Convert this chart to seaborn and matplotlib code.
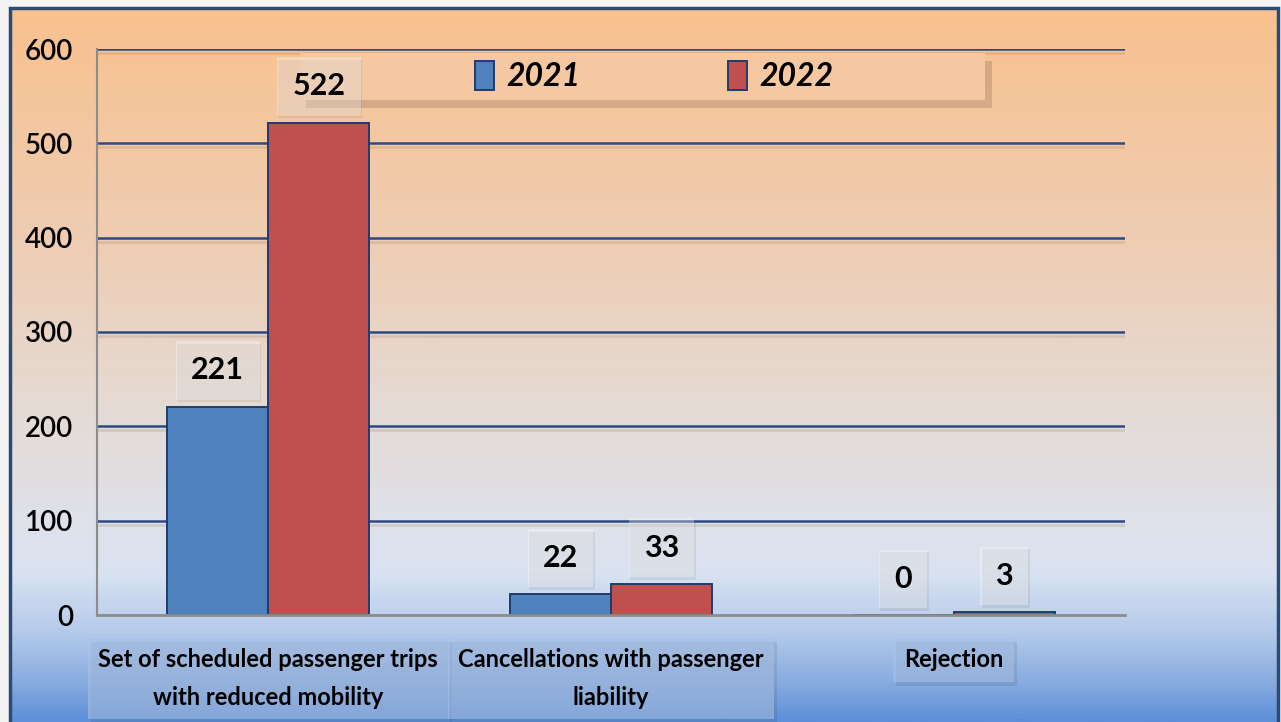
import numpy as np
import pandas as pd
import seaborn as sns
import matplotlib.pyplot as plt
import matplotlib.patheffects as pe
from matplotlib.colors import LinearSegmentedColormap, to_rgb
from matplotlib.patches import Rectangle, FancyBboxPatch

# data
categories = ['Set of scheduled passenger trips\nwith reduced mobility',
              'Cancellations with passenger\nliability',
              'Rejection']
years = ['2021', '2022']
values_2021 = [221, 22, 0]
values_2022 = [522, 33, 3]
yticks = [0, 100, 200, 300, 400, 500, 600]

df = pd.DataFrame({
    'category': categories * 2,
    'year': [years[0]] * 3 + [years[1]] * 3,
    'value': values_2021 + values_2022,
})

sns.set_style('white')
plt.rcParams['font.family'] = ['Lato', 'DejaVu Sans']
plt.rcParams['text.color'] = 'black'
plt.rcParams['xtick.labelcolor'] = 'black'
plt.rcParams['ytick.labelcolor'] = 'black'

W, H = 1281, 722
fig = plt.figure(figsize=(W / 100, H / 100), dpi=100)
fig.patch.set_facecolor('#f4f4f4')

# gradient background inside the frame
fx0, fy0, fx1, fy1 = 10, 8, 1278, 722
bg = fig.add_axes([fx0 / W, 1 - fy1 / H, (fx1 - fx0) / W, (fy1 - fy0) / H], zorder=-5)
stops = [(0.0, '#f9c18e'), (0.35, '#eeceb6'), (0.55, '#e5dad3'), (0.72, '#dfe1ea'),
         (0.79, '#dae3f1'), (0.88, '#b3c9ea'), (0.95, '#86aadf'), (1.0, '#5d90d8')]
cmap = LinearSegmentedColormap.from_list('bg', [(p, to_rgb(c)) for p, c in stops])
grad = np.linspace(0, 1, 400).reshape(-1, 1)
bg.imshow(grad, aspect='auto', cmap=cmap, extent=[0, 1, 0, 1], origin='upper')
bg.set_axis_off()
fig.patches.append(Rectangle((fx0 / W, -0.01), (fx1 - fx0) / W, 1 - fy0 / H + 0.01,
                             transform=fig.transFigure, fill=False,
                             edgecolor='#2d4a74', linewidth=2.5, zorder=10))

ax = fig.add_axes([97 / W, 1 - 615 / H, (1125 - 97) / W, (615 - 49) / H])
ax.set_facecolor('none')

sns.barplot(data=df, x='category', y='value', hue='year', order=categories,
            hue_order=years, palette={'2021': '#4f81bd', '2022': '#c0504d'},
            edgecolor='#1f3c6e', linewidth=1.4, width=0.59, saturation=1,
            ax=ax, zorder=3)

leg = ax.get_legend()
handles = leg.legend_handles
leg.remove()

ax.set_ylim(0, 600)
ax.set_xlim(-0.5, 2.5)
ax.set_yticks(yticks)
ax.set_xlabel('')
ax.set_ylabel('')

# gridlines
for y in yticks[1:]:
    ax.axhline(y, color='#2b4a80', linewidth=1.8, zorder=1,
               path_effects=[pe.SimpleLineShadow(offset=(0, -3), shadow_color='#8a6a55', alpha=0.2),
                             pe.Normal()])

for s in ['top', 'right']:
    ax.spines[s].set_visible(False)
ax.spines['left'].set_color('#8c8c8c')
ax.spines['bottom'].set_color('#8c8c8c')
ax.spines['left'].set_linewidth(1.5)
ax.spines['bottom'].set_linewidth(2)
ax.spines['bottom'].set_zorder(4)

ax.tick_params(axis='y', length=7, width=1.5, color='#8c8c8c', labelsize=20, pad=10)
for t in ax.get_yticklabels():
    t.set_fontweight('semibold')
ax.set_xticks([-0.5, 0.5, 1.5, 2.5], minor=True)
ax.tick_params(axis='x', which='minor', length=10, width=1.5, color='#8c8c8c', direction='out')
ax.tick_params(axis='x', which='major', length=0, labelsize=17, pad=24)
for t in ax.get_xticklabels():
    t.set_fontweight('bold')
    t.set_linespacing(1.75)
    t.set_bbox(dict(boxstyle='square,pad=0.45', facecolor='#a9c3ea', edgecolor='none', alpha=0.55))
    t.get_bbox_patch().set_path_effects([pe.withSimplePatchShadow(offset=(2, -3), alpha=0.12)])

# legend box
box = FancyBboxPatch((0.197, 0.91), 0.667, 0.083, boxstyle='square,pad=0',
                     transform=ax.transAxes, facecolor='#f6c8a1', edgecolor='none', zorder=5,
                     path_effects=[pe.withSimplePatchShadow(offset=(5, -6), shadow_rgbFace='#7a5a45', alpha=0.25)])
ax.add_patch(box)
lg = ax.legend(handles, years, loc='center', bbox_to_anchor=(0.542, 0.952), ncol=2,
               frameon=False, handlelength=0.6, handleheight=1.0, handletextpad=0.4,
               columnspacing=4.6, prop={'size': 23, 'weight': 'bold', 'style': 'italic'})
lg.set_zorder(6)

# value labels
for c in ax.containers:
    labels = ax.bar_label(c, padding=16, fontsize=22, fontweight='bold',
                          bbox=dict(boxstyle='square,pad=0.5', facecolor='white',
                                    edgecolor='none', alpha=0.3))
    for t in labels:
        t.set_zorder(8)
        t.get_bbox_patch().set_path_effects([pe.withSimplePatchShadow(offset=(1, -2), alpha=0.1)])

fig.savefig('out.png', dpi=100)
